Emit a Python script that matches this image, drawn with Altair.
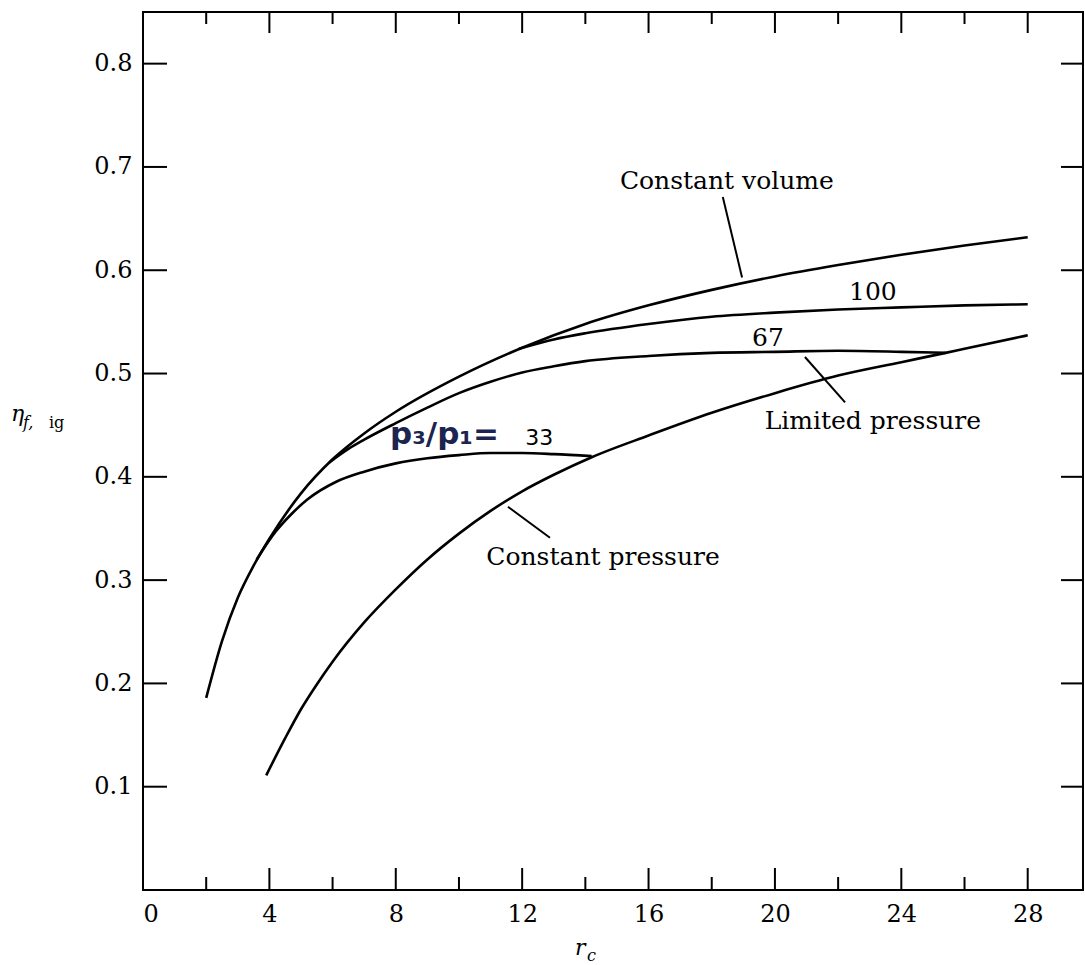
import altair as alt
import pandas as pd

# ---- data ----
cv_x = [2, 2.5, 3, 3.5, 4, 5, 6, 7, 8, 10, 12, 14, 16, 18, 20, 22, 24, 26, 28]
cv_y = [0.186, 0.241, 0.283, 0.314, 0.340, 0.384, 0.417, 0.442, 0.463, 0.497, 0.525, 0.548, 0.566, 0.581, 0.594, 0.605, 0.615, 0.624, 0.632]
lp33_x = [3.6, 4.2, 4.7, 5.2, 6.1, 7, 8, 9, 10, 11, 12, 13, 14.2]
lp33_y = [0.320, 0.347, 0.364, 0.378, 0.395, 0.405, 0.413, 0.418, 0.421, 0.423, 0.423, 0.422, 0.420]
lp67_x = [5.9, 6.5, 7, 8, 9, 10, 11, 12, 13, 14, 16, 18, 20, 22, 24, 25.4]
lp67_y = [0.414, 0.427, 0.436, 0.452, 0.467, 0.481, 0.492, 0.501, 0.507, 0.512, 0.517, 0.520, 0.521, 0.522, 0.521, 0.520]
lp100_x = [11.9, 13, 14, 16, 18, 20, 22, 24, 26, 28]
lp100_y = [0.524, 0.533, 0.539, 0.548, 0.555, 0.559, 0.562, 0.564, 0.566, 0.567]
cp_x = [3.9, 4.5, 5, 5.5, 6, 7, 8, 9, 10, 11, 12, 13, 14.2, 16, 18, 20, 22, 24, 25.4, 26, 28]
cp_y = [0.111, 0.147, 0.175, 0.199, 0.221, 0.259, 0.291, 0.320, 0.345, 0.367, 0.386, 0.402, 0.419, 0.440, 0.462, 0.481, 0.498, 0.511, 0.520, 0.524, 0.537]

x_labels = [0, 4, 8, 12, 16, 20, 24, 28]
x_major = [4, 8, 12, 16, 20, 24, 28]
x_minor = [2, 6, 10, 14, 18, 22, 26]
y_ticks = [0.1, 0.2, 0.3, 0.4, 0.5, 0.6, 0.7, 0.8]

# annotation texts
serif_texts = ["Constant volume", "100", "67", "Limited pressure", "Constant pressure"]
serif_tx = [18.48, 23.1, 19.78, 23.1, 14.56]
serif_ty = [0.686, 0.579, 0.534, 0.454, 0.322]

lead_x = [18.35, 20.95, 11.55]
lead_y = [0.671, 0.516, 0.371]
lead_x2 = [18.96, 22.22, 12.88]
lead_y2 = [0.593, 0.472, 0.341]

W, H = 940, 878
xs = alt.Scale(domain=[0, 29.75], nice=False, zero=False)
ys = alt.Scale(domain=[0, 0.85], nice=False, zero=False)

x_axis = alt.Axis(values=x_labels, ticks=False, tickSize=0, domain=False, grid=False,
                  labelFont="DejaVu Serif", labelFontSize=24, labelColor="black",
                  labelPadding=12, title=None)
y_axis = alt.Axis(values=y_ticks, format=".1f", ticks=False, tickSize=0, domain=False,
                  grid=False, labelFont="DejaVu Serif", labelFontSize=24,
                  labelColor="black", labelPadding=11, title=None)


def X(field):
    return alt.X(field, scale=xs, axis=x_axis)


def Y(field):
    return alt.Y(field, scale=ys, axis=y_axis)


rows = []
for name, xv, yv in [("cv", cv_x, cv_y), ("33", lp33_x, lp33_y), ("67", lp67_x, lp67_y),
                     ("100", lp100_x, lp100_y), ("cp", cp_x, cp_y)]:
    for a, b in zip(xv, yv):
        rows.append({"series": name, "x": a, "y": b})
df = pd.DataFrame(rows)

lines = alt.Chart(df).mark_line(color="black", strokeWidth=2.6, interpolate="monotone").encode(
    x=X("x:Q"), y=Y("y:Q"), detail="series:N")


def tick_rules(vals, axis, p0, p1):
    d = pd.DataFrame({"v": vals})
    if axis == "x":
        return alt.Chart(d).mark_rule(color="black", strokeWidth=2).encode(
            x=X("v:Q"), y=alt.value(p0), y2=alt.value(p1))
    return alt.Chart(d).mark_rule(color="black", strokeWidth=2).encode(
        y=Y("v:Q"), x=alt.value(p0), x2=alt.value(p1))


ticks = [
    tick_rules(x_major, "x", H, H - 22),
    tick_rules(x_minor, "x", H, H - 13),
    tick_rules(x_major, "x", 0, 21),
    tick_rules(x_minor, "x", 0, 12),
    tick_rules(y_ticks, "y", 0, 24),
    tick_rules(y_ticks, "y", W, W - 22),
]

ann = pd.DataFrame({"t": serif_texts, "x": serif_tx, "y": serif_ty})
ann_text = alt.Chart(ann).mark_text(font="DejaVu Serif", fontSize=25, color="black", align="center",
                                    baseline="middle").encode(x=X("x:Q"), y=Y("y:Q"), text="t:N")

leads = alt.Chart(pd.DataFrame({"x": lead_x, "y": lead_y, "x2": lead_x2, "y2": lead_y2})).mark_rule(
    color="black", strokeWidth=2).encode(x=X("x:Q"), y=Y("y:Q"), x2="x2:Q", y2="y2:Q")

p_label = alt.Chart(pd.DataFrame({"t": ["p₃/p₁="], "x": [7.82], "y": [0.432]})).mark_text(
    font="DejaVu Sans", fontWeight="bold", fontSize=31, color="#1b2550", align="left",
    baseline="alphabetic").encode(x=X("x:Q"), y=Y("y:Q"), text="t:N")
p_val = alt.Chart(pd.DataFrame({"t": ["33"], "x": [12.1], "y": [0.431]})).mark_text(
    font="DejaVu Sans", fontSize=22, color="black", align="left", baseline="alphabetic").encode(
    x=X("x:Q"), y=Y("y:Q"), text="t:N")


def ptext(t, px, py, size, style="normal"):
    return alt.Chart(pd.DataFrame({"t": [t]})).mark_text(
        font="DejaVu Serif", fontSize=size, fontStyle=style, color="black", align="left",
        baseline="alphabetic").encode(x=alt.value(px), y=alt.value(py), text="t:N")


titles = [
    ptext("r", 432, 943, 22, "italic"),
    ptext("c", 444, 949, 16, "italic"),
    ptext("η", -132, 409, 22, "italic"),
    ptext("f,", -120, 416, 16, "italic"),
    ptext("ig", -94, 416, 16),
]

chart = alt.layer(lines, *ticks, leads, ann_text, p_label, p_val, *titles).properties(
    width=W, height=H,
    padding={"left": 143, "top": 12, "right": 2, "bottom": 75},
    autosize=alt.AutoSizeParams(type="none"),
).configure(background="white").configure_view(stroke="black", strokeWidth=2)

chart.save("out.html", embed_options={"renderer": "svg", "actions": False})
